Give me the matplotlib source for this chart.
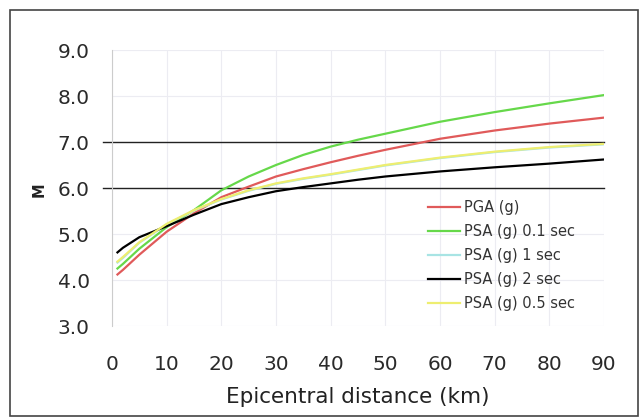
import matplotlib
matplotlib.use("Agg")
import matplotlib.pyplot as plt
from matplotlib.patches import Rectangle

# ---- data ----
dist = [1, 2, 5, 10, 15, 20, 25, 30, 35, 40, 45, 50, 60, 70, 80, 90]
pga    = [4.12, 4.22, 4.55, 5.05, 5.45, 5.80, 6.03, 6.25, 6.41, 6.56, 6.70, 6.83, 7.07, 7.25, 7.40, 7.53]
psa01  = [4.25, 4.35, 4.68, 5.15, 5.52, 5.95, 6.25, 6.50, 6.72, 6.90, 7.05, 7.18, 7.44, 7.65, 7.84, 8.02]
psa1   = [4.38, 4.48, 4.81, 5.21, 5.51, 5.75, 5.94, 6.09, 6.20, 6.29, 6.39, 6.49, 6.65, 6.78, 6.88, 6.95]
psa2   = [4.60, 4.70, 4.93, 5.17, 5.42, 5.65, 5.80, 5.93, 6.02, 6.10, 6.18, 6.25, 6.36, 6.45, 6.53, 6.62]
psa05  = [4.40, 4.50, 4.82, 5.22, 5.52, 5.76, 5.95, 6.10, 6.21, 6.30, 6.40, 6.50, 6.66, 6.79, 6.89, 6.96]

series_labels = ["PGA (g)", "PSA (g) 0.1 sec", "PSA (g) 1 sec", "PSA (g) 2 sec", "PSA (g) 0.5 sec"]
series_values = [pga, psa01, psa1, psa2, psa05]
series_colors = ["#e05a5a", "#66d84a", "#a8e4e4", "#000000", "#eeee70"]

yticks = [3.0, 4.0, 5.0, 6.0, 7.0, 8.0, 9.0]
xticks = [0, 10, 20, 30, 40, 50, 60, 70, 80, 90]
ref_levels = [6.0, 7.0]

# ---- figure ----
fig = plt.figure(figsize=(6.41, 4.18), dpi=100)
fig.patches.append(Rectangle((10/641, 2/418), 628/641, 406/418, transform=fig.transFigure,
                             fill=False, edgecolor="#444444", linewidth=1.2))

ax = fig.add_axes([112/641, 1-326/418, 492/641, 276/418])

for vals, lab, col in zip(series_values, series_labels, series_colors):
    ax.plot(dist, vals, color=col, linewidth=1.6, label=lab)

for lv in ref_levels:
    ax.plot([-1.7, 90], [lv, lv], color="#222222", linewidth=1.0, clip_on=False, zorder=1)

ax.set_xlim(0, 90)
ax.set_ylim(3.0, 9.0)
ax.set_xticks(xticks)
ax.set_yticks(yticks)
ax.set_yticklabels([f"{v:.1f}" for v in yticks])
ax.grid(True, color="#ececf2", linewidth=0.8)
ax.set_axisbelow(True)
for s in ["top", "right", "bottom"]:
    ax.spines[s].set_visible(False)
ax.spines["left"].set_color("#cccccc")
ax.tick_params(length=0, labelsize=14.5, colors="#2a2a2a")
ax.tick_params(axis="x", pad=21)
ax.tick_params(axis="y", pad=16)

ax.set_xlabel("Epicentral distance (km)", fontsize=15.5, color="#222222", labelpad=9)
fig.text(39/641, 1-190/418, "M", rotation=90, fontsize=10.5, fontweight="bold",
         ha="center", va="center", color="#222222")

leg = ax.legend(loc="upper left", bbox_to_anchor=(428/641, 1-200/418),
                bbox_transform=fig.transFigure, frameon=False, borderpad=0, borderaxespad=0,
                fontsize=10.5, handlelength=2.2, labelspacing=0.62, handletextpad=0.25)
for t in leg.get_texts():
    t.set_color("#333333")

fig.savefig("out.png", dpi=100)
